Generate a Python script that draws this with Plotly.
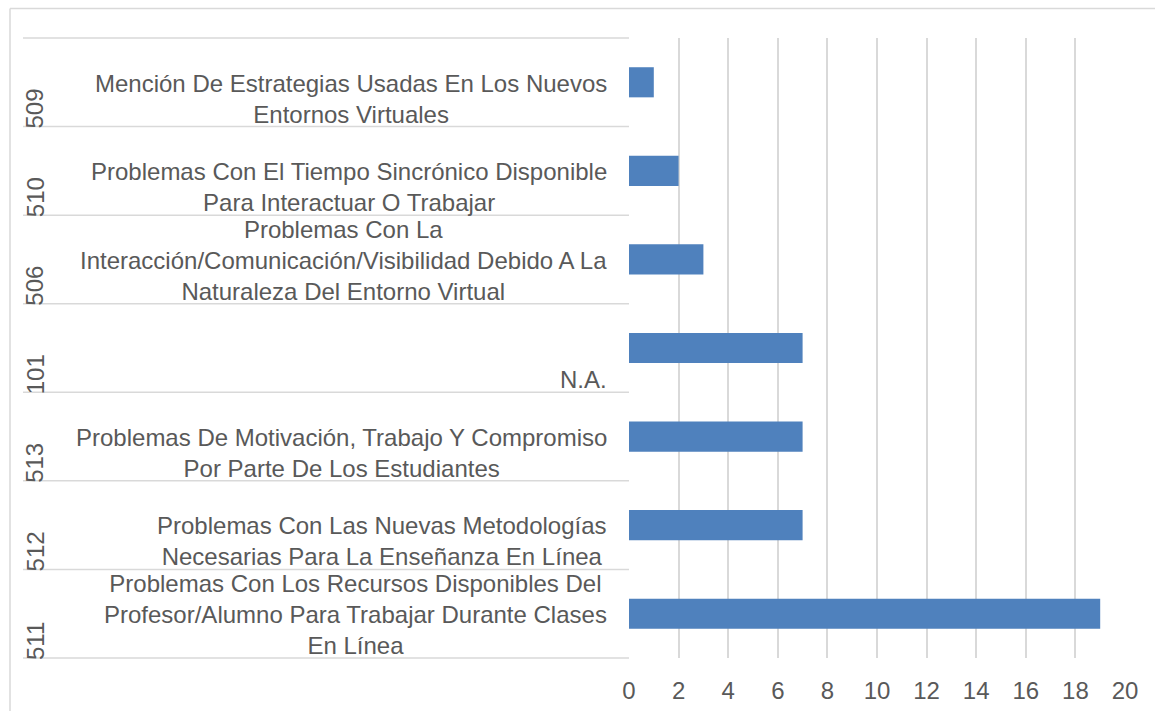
import plotly.graph_objects as go

codes = ["509", "510", "506", "101", "513", "512", "511"]
labels = [
    "Mención De Estrategias Usadas En Los Nuevos<br>Entornos Virtuales",
    "Problemas Con El Tiempo Sincrónico Disponible<br>Para Interactuar O Trabajar",
    "Problemas Con La<br>Interacción/Comunicación/Visibilidad Debido A La<br>Naturaleza Del Entorno Virtual",
    "N.A.",
    "Problemas De Motivación, Trabajo Y Compromiso<br>Por Parte De Los Estudiantes",
    "Problemas Con Las Nuevas Metodologías<br>Necesarias Para La Enseñanza En Línea",
    "Problemas Con Los Recursos Disponibles Del<br>Profesor/Alumno Para Trabajar Durante Clases<br>En Línea",
]
values = [1, 2, 3, 7, 7, 7, 19]
x_ticks = list(range(0, 21, 2))

W, H = 1155, 711
L, R, T, B = 629, 30, 38, 53
plot_w = W - L - R
plot_h = H - T - B

FONT = "Liberation Sans, Arial, sans-serif"
TXT = "#595959"
GRID = "#D9D9D9"
FS = 24

fig = go.Figure(go.Bar(
    x=values, y=codes, orientation="h",
    marker=dict(color="#4F81BD", line=dict(width=0)),
    hoverinfo="x+y",
))

def px_x(p):
    return (p - L) / plot_w

def px_y(p):
    return 1 - (p - T) / plot_h

shapes = []
n = len(codes)
for k in range(n + 1):
    yy = 1 - k / n
    shapes.append(dict(type="line", xref="paper", yref="paper",
                       x0=px_x(23), x1=0, y0=yy, y1=yy,
                       line=dict(color=GRID, width=1.5)))
# chart border (top and left)
shapes.append(dict(type="line", xref="paper", yref="paper",
                   x0=px_x(10), x1=px_x(1160), y0=px_y(8.5), y1=px_y(8.5),
                   line=dict(color=GRID, width=1.5)))
shapes.append(dict(type="line", xref="paper", yref="paper",
                   x0=px_x(10), x1=px_x(10), y0=px_y(8.5), y1=px_y(716),
                   line=dict(color=GRID, width=1.5)))

annotations = []
for i, (c, lab) in enumerate(zip(codes, labels)):
    annotations.append(dict(
        text=lab, xref="paper", yref="y", x=0, xshift=-20,
        y=i + 0.5, yanchor="bottom", xanchor="right", align="center",
        yshift=-3,
        showarrow=False, font=dict(family=FONT, size=FS, color=TXT),
    ))
    annotations.append(dict(
        text=c, xref="paper", yref="y", x=px_x(35),
        y=i + 0.5, yanchor="bottom", xanchor="center", textangle=-90,
        yshift=-4,
        showarrow=False, font=dict(family=FONT, size=FS, color=TXT),
    ))

fig.update_layout(
    width=W, height=H, autosize=False,
    margin=dict(l=L, r=R, t=T, b=B, pad=0, autoexpand=False),
    paper_bgcolor="white", plot_bgcolor="white",
    bargap=0.66, showlegend=False,
    font=dict(family=FONT, size=FS, color=TXT),
    shapes=shapes, annotations=annotations,
    xaxis=dict(range=[0, 20], tickvals=x_ticks, showgrid=True, gridcolor=GRID,
               gridwidth=1.5, zeroline=False, showline=False, ticks="",
               ticklabelstandoff=16, automargin=False,
               tickfont=dict(family=FONT, size=FS, color=TXT)),
    yaxis=dict(categoryorder="array", categoryarray=codes,
               range=[n - 0.5, -0.5], showticklabels=False, showgrid=False,
               zeroline=False, showline=False, ticks="", automargin=False),
)

fig.write_html(
    "out.html",
    config={"displayModeBar": False},
    post_script="document.body.style.margin='0';document.body.style.overflow='hidden';",
)
